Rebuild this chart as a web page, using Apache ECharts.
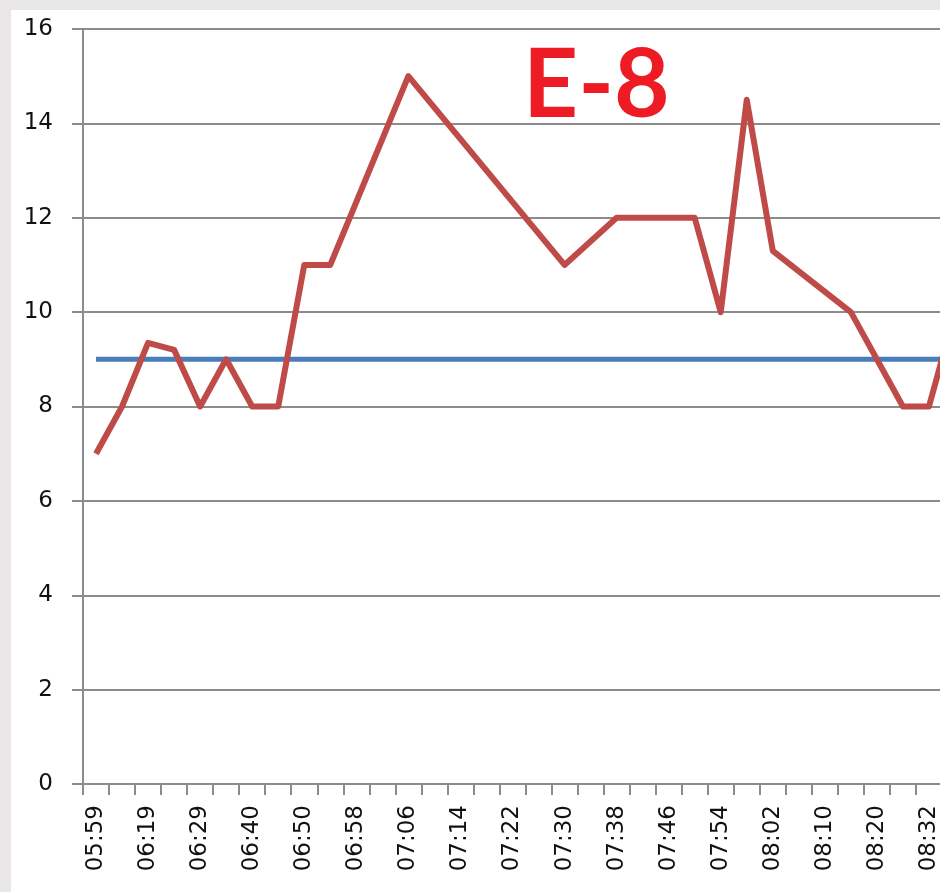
<!DOCTYPE html>
<html>
<head>
<meta charset="utf-8">
<script src="https://cdn.jsdelivr.net/npm/echarts@6/dist/echarts.min.js"></script>
<style>
html,body{margin:0;padding:0;background:#e8e6e7;overflow:hidden;width:940px;height:892px;}
#chart{width:968px;height:892px;}
</style>
</head>
<body>
<div id="chart"></div>
<script>
// x-axis categories (only every other time is printed on the axis)
const categories = ['05:59','','06:19','','06:29','','06:40','','06:50','','06:58','','07:06','','07:14','','07:22','','07:30','','07:38','','07:46','','07:54','','08:02','','08:10','','08:20','','08:32',''];
// measured series (null = no reading, joined by the line)
const measured = [7, 8, 9.35, 9.2, 8, 9, 8, 8, 11, 11, null, null, 15, null, null, null, null, null, 11, null, 12, 12, 12, 12, 10, 14.5, 11.3, null, null, 10, null, 8, 8, 10];
// reference level
const reference = categories.map(() => 9);
const yTicks = [0, 2, 4, 6, 8, 10, 12, 14, 16];
const titleText = 'E-8';

const chart = echarts.init(document.getElementById('chart'));
const grey = '#8c8c8c';
chart.setOption({
  backgroundColor: '#e8e6e7',
  animation: false,
  graphic: [
    { type: 'rect', z: -10, shape: { x: 11, y: 10, width: 970, height: 900 }, style: { fill: '#ffffff' } },
    { type: 'text', z: 10, left: 523, top: 38,
      style: { text: titleText, fill: '#ed1c24', font: 'bold 96px Lato', textVerticalAlign: 'top' } }
  ],
  grid: { left: 83, top: 29, bottom: 108, right: 0 },
  xAxis: {
    type: 'category',
    data: categories,
    boundaryGap: true,
    axisLine: { show: true, lineStyle: { color: grey, width: 2 } },
    axisTick: { show: true, interval: 0, length: 11, lineStyle: { color: grey, width: 2 } },
    axisLabel: { interval: 1, rotate: 90, margin: 21, color: '#111', fontFamily: 'DejaVu Sans', fontSize: 23 },
    splitLine: { show: false }
  },
  yAxis: {
    type: 'value',
    min: yTicks[0], max: yTicks[yTicks.length - 1], interval: 2,
    axisLine: { show: true, lineStyle: { color: grey, width: 2 } },
    axisTick: { show: true, length: 11, lineStyle: { color: grey, width: 2 } },
    axisLabel: { margin: 30, color: '#111', fontFamily: 'DejaVu Sans', fontSize: 23 },
    splitLine: { show: true, lineStyle: { color: grey, width: 2 } }
  },
  series: [
    { type: 'line', data: reference, symbol: 'none', lineStyle: { color: '#4a7ebb', width: 5 }, z: 3 },
    { type: 'line', data: measured, connectNulls: true, symbol: 'none', lineStyle: { color: '#be4b48', width: 6, join: 'round' }, z: 4 }
  ]
});
</script>
</body>
</html>
